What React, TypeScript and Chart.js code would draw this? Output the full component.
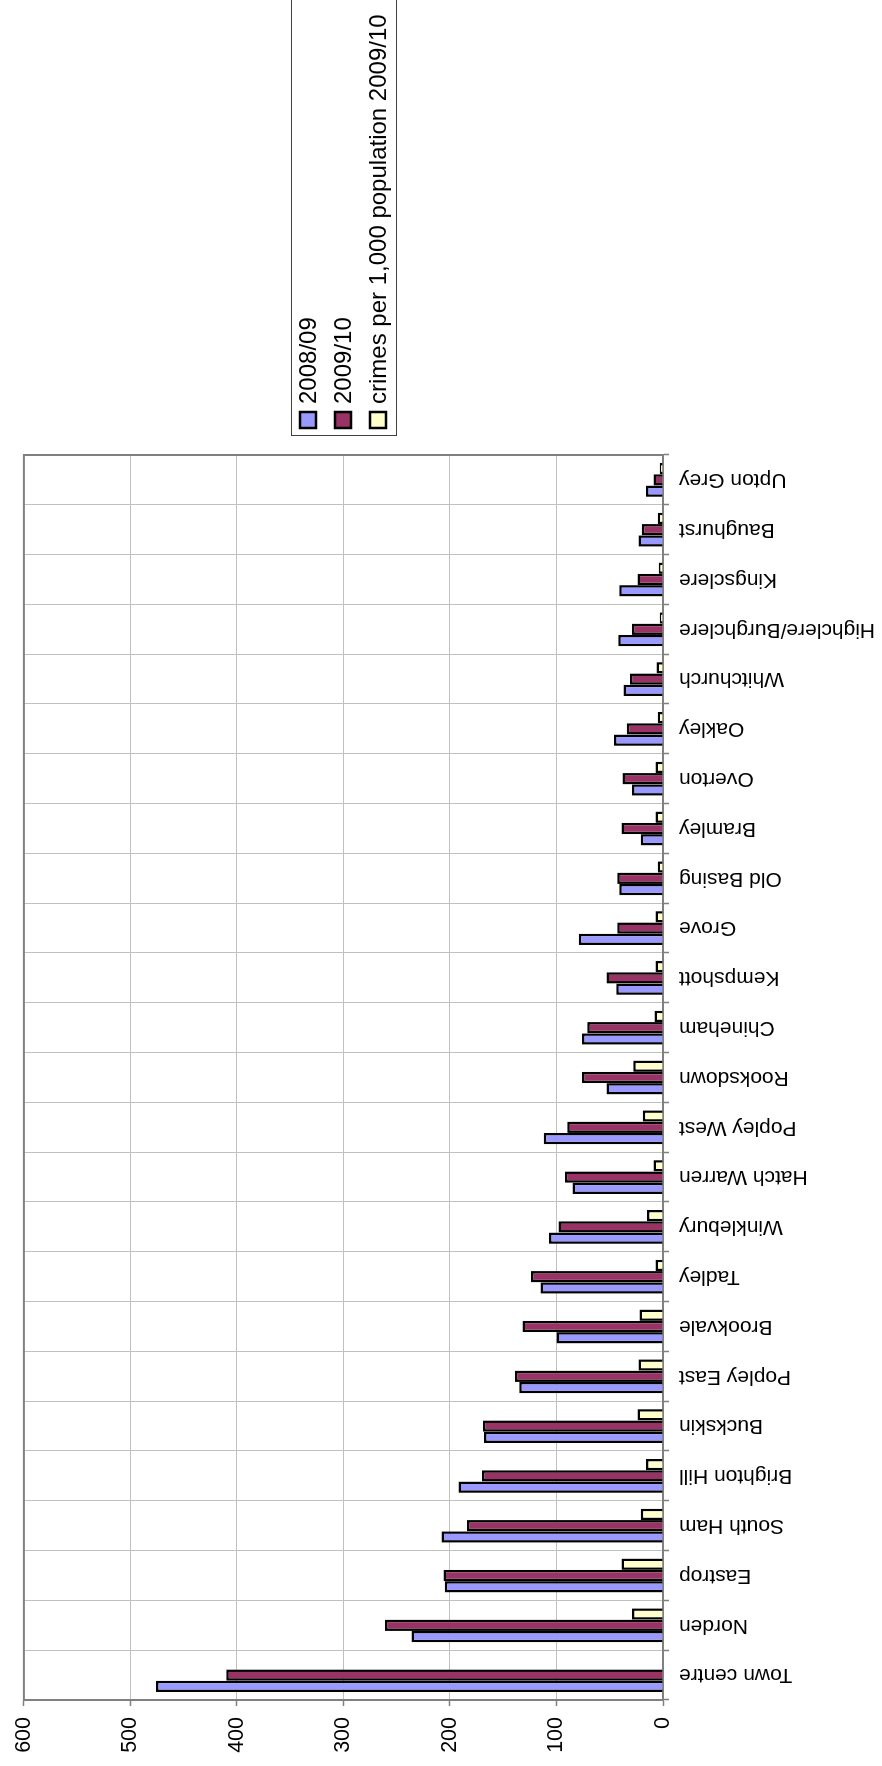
import React, { useEffect, useRef } from "react";
import { Chart, registerables } from "chart.js";

Chart.register(...registerables);

// ---- data ----
const categories = [
  "Town centre",
  "Norden",
  "Eastrop",
  "South Ham",
  "Brighton Hill",
  "Buckskin",
  "Popley East",
  "Brookvale",
  "Tadley",
  "Winklebury",
  "Hatch Warren",
  "Popley West",
  "Rooksdown",
  "Chineham",
  "Kempshott",
  "Grove",
  "Old Basing",
  "Bramley",
  "Overton",
  "Oakley",
  "Whitchurch",
  "Highclere/Burghclere",
  "Kingsclere",
  "Baughurst",
  "Upton Grey",
];

const crimes200809 = [476, 236, 205, 208, 192, 168, 135, 100, 115, 107, 85, 112, 53, 76, 44, 79, 41, 21, 29, 46, 37, 42, 41, 23, 16];
const crimes200910 = [410, 261, 206, 184, 170, 169, 139, 132, 124, 98, 92, 90, 76, 71, 53, 43, 43, 39, 38, 34, 31, 29, 24, 20, 9];
const ratePer1000 = [null, 29, 39, 21, 16, 24, 23, 22, 7, 15, 9, 19, 28, 8, 7, 7, 5, 7, 7, 5, 6, 3, 4, 5, 3];

const seriesLabels = ["2008/09", "2009/10", "crimes per 1,000 population 2009/10"];
const seriesColors = ["#9999FF", "#993366", "#FFFFCC"];

const valueMin = 0;
const valueMax = 600;
const valueStep = 100;

// ---- layout (chart drawn in its own orientation, then turned on the page) ----
const W = 1766;
const H = 882;
const FONT = '"Liberation Sans", Arial, Helvetica, sans-serif';

const framePlugin = {
  id: "frame",
  beforeDatasetsDraw(chart: any) {
    const { ctx, chartArea } = chart;
    ctx.save();
    ctx.strokeStyle = "#808080";
    ctx.lineWidth = 2;
    ctx.strokeRect(chartArea.left, chartArea.top, chartArea.right - chartArea.left, chartArea.bottom - chartArea.top);
    ctx.restore();
  },
};

const boxLegendPlugin = {
  id: "boxLegend",
  afterDraw(chart: any) {
    const { ctx } = chart;
    const datasets = chart.data.datasets;
    const x0 = chart.chartArea.right + 19;
    const top = 291;
    const rowH = 35;
    ctx.save();
    ctx.strokeStyle = "#404040";
    ctx.lineWidth = 1;
    ctx.strokeRect(x0 + 0.5, top + 0.5, W, 105);
    datasets.forEach((d: any, i: number) => {
      const cy = top + 17 + i * rowH;
      ctx.fillStyle = d.backgroundColor;
      ctx.fillRect(x0 + 8, cy - 8, 16, 16);
      ctx.lineWidth = 2.5;
      ctx.strokeStyle = "#000";
      ctx.strokeRect(x0 + 8, cy - 8, 16, 16);
      ctx.fillStyle = "#000";
      ctx.font = `24px ${FONT}`;
      ctx.textBaseline = "middle";
      ctx.textAlign = "left";
      ctx.fillText(d.label, x0 + 32, cy + 1);
    });
    ctx.restore();
  },
};

export default function App() {
  const ref = useRef<HTMLCanvasElement | null>(null);

  useEffect(() => {
    if (!ref.current) return;
    const series = [crimes200809, crimes200910, ratePer1000];
    const chart = new Chart(ref.current, {
      type: "bar",
      data: {
        labels: categories,
        datasets: series.map((data, i) => ({
          label: seriesLabels[i],
          data: data as any,
          backgroundColor: seriesColors[i],
          borderColor: "#000000",
          borderWidth: 2.5,
          categoryPercentage: 0.68,
          barPercentage: 1.0,
        })),
      },
      options: {
        responsive: false,
        animation: false,
        devicePixelRatio: 1,
        layout: { padding: { left: 0, top: 23, right: W - 1311, bottom: 0 } },
        plugins: {
          legend: { display: false },
          tooltip: { enabled: false },
        },
        scales: {
          x: {
            grid: { color: "#c0c0c0", lineWidth: 1, offset: true, tickLength: 6, tickColor: "#808080", tickWidth: 1.5 },
            border: { color: "#808080", width: 2 },
            ticks: {
              autoSkip: false,
              minRotation: 90,
              maxRotation: 90,
              padding: 10,
              color: "#000",
              font: { family: FONT, size: 21 },
            },
            afterFit(scale: any) {
              scale.height = H - 663;
            },
          },
          y: {
            min: valueMin,
            max: valueMax,
            grid: { color: "#c0c0c0", lineWidth: 1, tickLength: 6, tickColor: "#808080", tickWidth: 1.5 },
            border: { color: "#808080", width: 2 },
            ticks: {
              stepSize: valueStep,
              padding: 11,
              color: "#000",
              font: { family: FONT, size: 21.5 },
            },
            afterFit(scale: any) {
              scale.width = 66;
            },
          },
        },
      },
      plugins: [framePlugin, boxLegendPlugin],
    });
    return () => chart.destroy();
  }, []);

  return (
    <div
      style={{
        position: "fixed",
        left: 0,
        top: 0,
        width: 882,
        height: 1766,
        overflow: "hidden",
        background: "#ffffff",
      }}
    >
      <canvas
        ref={ref}
        width={W}
        height={H}
        style={{
          position: "absolute",
          left: 0,
          top: 0,
          width: W,
          height: H,
          transformOrigin: "0 0",
          transform: `translate(0px, ${W}px) rotate(-90deg)`,
        }}
      />
    </div>
  );
}
